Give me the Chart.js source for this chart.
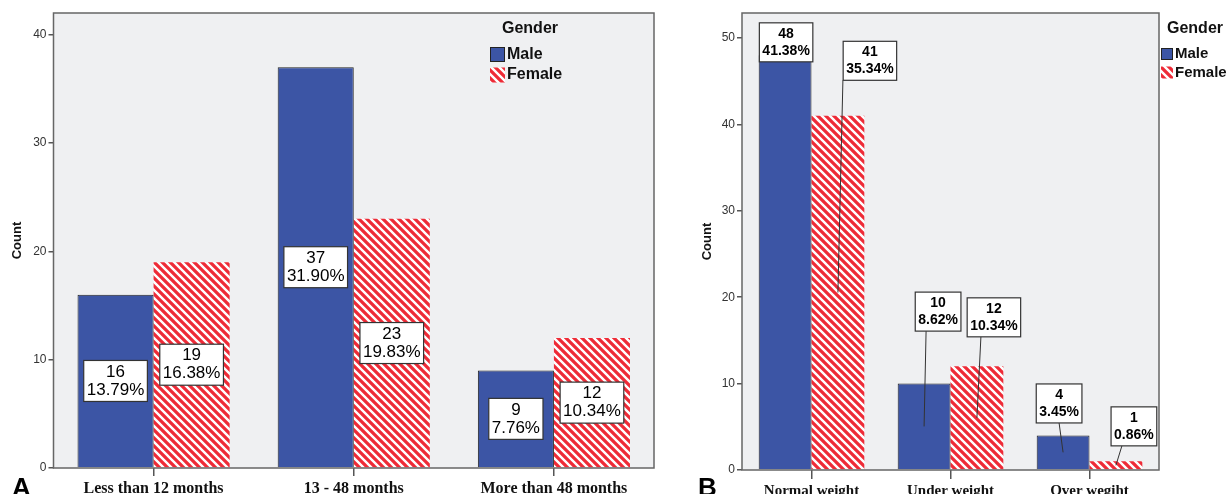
<!DOCTYPE html>
<html>
<head>
<meta charset="utf-8">
<script src="https://cdn.jsdelivr.net/npm/chart.js@4.4.1/dist/chart.umd.min.js"></script>
<style>
  body { margin: 0; background: #fff; width: 1227px; height: 494px; overflow: hidden; position: relative; }
  canvas { position: absolute; top: 0; }
  #age { left: 0; }
  #weight { left: 690px; }
  .tag { position: absolute; font: bold 26px 'Liberation Sans', Arial, sans-serif; line-height: 26px; color: #000; }
</style>
</head>
<body>
<canvas id="age" width="690" height="494"></canvas>
<canvas id="weight" width="537" height="494"></canvas>
<div class="tag" style="left:12px;top:474px">A</div>
<div class="tag" style="left:698px;top:474px">B</div>
<script>
// panel A: age groups
const ageLabels = ['Less than 12 months', '13 - 48 months', 'More than 48 months']
const ageMale = [16, 37, 9]
const ageFemale = [19, 23, 12]
const ageTicks = [0, 10, 20, 30, 40]

// panel B: weight status
const weightLabels = ['Normal weight', 'Under weight', 'Over wegiht']
const weightMale = [48, 10, 4]
const weightFemale = [41, 12, 1]
const weightTicks = [0, 10, 20, 30, 40, 50]

// callout placement for B: [box dx from bar centre, box dy from bar top, leader start dx from box centre, draw leader]
const weightCallouts = [
  [[1, -13, 0, false], [14, -72, -12, true], [-4, -32, 0, true]],
  [[32, -55, -27, true], [17, -49, -13, true], [18, -35, -12, true]]
]

const blue = '#3c55a5'
const red = '#ee2b37'

const stripes = (() => {
  const s = 8
  const c = document.createElement('canvas')
  c.width = s; c.height = s
  const g = c.getContext('2d')
  g.fillStyle = red
  g.fillRect(0, 0, s, s)
  g.strokeStyle = '#fff'
  g.lineWidth = 2.4
  g.beginPath()
  g.moveTo(-1, -1); g.lineTo(s + 1, s + 1)
  g.moveTo(-1, s - 1); g.lineTo(1, s + 1)
  g.moveTo(s - 1, -1); g.lineTo(s + 1, 1)
  g.stroke()
  return g.createPattern(c, 'repeat')
})()

const pct = (v, all) => (v / all * 100).toFixed(2) + '%'

const frame = {
  id: 'frame',
  beforeDatasetsDraw (chart) {
    const { ctx, chartArea: a } = chart
    ctx.save()
    ctx.fillStyle = '#eff0f2'
    ctx.fillRect(a.left, a.top, a.right - a.left, a.bottom - a.top)
    ctx.restore()
  },
  afterDatasetsDraw (chart) {
    const { ctx, chartArea: a } = chart
    ctx.save()
    ctx.strokeStyle = '#666'
    ctx.lineWidth = 1.5
    ctx.strokeRect(a.left, a.top, a.right - a.left, a.bottom - a.top)
    ctx.restore()
  }
}

const genderKey = {
  id: 'genderKey',
  afterDraw (chart, args, o) {
    const { ctx } = chart
    ctx.save()
    ctx.fillStyle = '#111'
    ctx.textBaseline = 'middle'
    ctx.textAlign = 'center'
    ctx.font = 'bold 16px "Liberation Sans", Arial, sans-serif'
    ctx.fillText('Gender', o.titleX, o.titleY)
    ctx.textAlign = 'left'
    ctx.font = `bold ${o.size}px "Liberation Sans", Arial, sans-serif`
    chart.data.datasets.forEach((ds, i) => {
      const y = o.rowY[i]
      ctx.fillStyle = ds.backgroundColor
      ctx.fillRect(o.x, y - o.box / 2, o.box, o.box)
      if (ds.borderWidth) {
        ctx.strokeStyle = '#222'
        ctx.lineWidth = 1
        ctx.strokeRect(o.x + 0.5, y - o.box / 2 + 0.5, o.box - 1, o.box - 1)
      }
      ctx.fillStyle = '#111'
      ctx.fillText(ds.label, o.x + o.box + 2, y)
    })
    ctx.restore()
  }
}

const callouts = {
  id: 'callouts',
  afterDatasetsDraw (chart, args, o) {
    const { ctx } = chart
    const all = chart.data.datasets.reduce((t, ds) => t + ds.data.reduce((a, b) => a + b, 0), 0)
    ctx.save()
    ctx.font = o.font
    ctx.textAlign = 'center'
    ctx.textBaseline = 'middle'
    chart.data.datasets.forEach((ds, i) => {
      chart.getDatasetMeta(i).data.forEach((bar, j) => {
        const v = ds.data[j]
        const lines = [String(v), pct(v, all)]
        const w = Math.max(...lines.map(t => ctx.measureText(t).width)) + 6
        const h = o.lineH * 2 + 5
        const mid = (bar.y + bar.base) / 2
        let cx = bar.x
        let cy = mid
        const place = o.layout && o.layout[i][j]
        if (place) {
          cx = bar.x + place[0]
          cy = bar.y + place[1]
          if (place[3]) {
            ctx.strokeStyle = '#333'
            ctx.lineWidth = 1
            ctx.beginPath()
            ctx.moveTo(cx + place[2], cy + h / 2)
            ctx.lineTo(bar.x, mid)
            ctx.stroke()
          }
        }
        ctx.fillStyle = '#fff'
        ctx.fillRect(cx - w / 2, cy - h / 2, w, h)
        ctx.strokeStyle = '#333'
        ctx.lineWidth = 1.2
        ctx.strokeRect(cx - w / 2, cy - h / 2, w, h)
        ctx.fillStyle = '#000'
        ctx.fillText(lines[0], cx, cy - o.lineH / 2)
        ctx.fillText(lines[1], cx, cy + o.lineH / 2)
      })
    })
    ctx.restore()
  }
}

const makeChart = (id, cfg) => new Chart(document.getElementById(id), {
  type: 'bar',
  data: {
    labels: cfg.labels,
    datasets: [
      { label: 'Male', data: cfg.male, backgroundColor: blue, borderColor: '#222', borderWidth: 1 },
      { label: 'Female', data: cfg.female, backgroundColor: stripes, borderWidth: 0 }
    ]
  },
  options: {
    responsive: false,
    animation: false,
    layout: { padding: { left: 0, top: 13, right: cfg.padRight, bottom: 0 } },
    datasets: { bar: { categoryPercentage: 0.76, barPercentage: 1 } },
    scales: {
      x: {
        offset: true,
        grid: { offset: false, drawOnChartArea: false, tickLength: cfg.xTick, color: '#555', lineWidth: 1.5 },
        border: { display: false },
        ticks: {
          color: '#111', padding: 3, maxRotation: 0, autoSkip: false,
          font: { family: '"Liberation Serif", "Times New Roman", serif', size: cfg.xFont, weight: 'bold' }
        },
        afterFit: s => { s.height = cfg.xHeight }
      },
      y: {
        min: 0,
        max: cfg.max,
        afterBuildTicks: s => { s.ticks = cfg.ticks.map(v => ({ value: v })) },
        afterFit: s => { s.width = cfg.yWidth },
        grid: { drawOnChartArea: false, tickLength: 5, color: '#555', lineWidth: 1.5 },
        border: { display: false },
        ticks: { color: '#333', padding: 2, font: { family: '"Liberation Sans", Arial, sans-serif', size: 12 } },
        title: {
          display: true, text: 'Count', color: '#111', padding: { top: 10, bottom: 0 },
          font: { family: '"Liberation Sans", Arial, sans-serif', size: 13, weight: 'bold' }
        }
      }
    },
    plugins: {
      legend: { display: false },
      tooltip: { enabled: false },
      genderKey: cfg.key,
      callouts: cfg.callouts
    }
  },
  plugins: [frame, callouts, genderKey]
})

makeChart('age', {
  labels: ageLabels, male: ageMale, female: ageFemale, ticks: ageTicks,
  max: 42, padRight: 36, yWidth: 53.5, xHeight: 26, xTick: 8, xFont: 16,
  key: { titleX: 530, titleY: 29, x: 490, box: 15, size: 16, rowY: [54.5, 75] },
  callouts: { font: '17px "Liberation Sans", Arial, sans-serif', lineH: 18 }
})

makeChart('weight', {
  labels: weightLabels, male: weightMale, female: weightFemale, ticks: weightTicks,
  max: 52.9, padRight: 68, yWidth: 52, xHeight: 24, xTick: 9, xFont: 15,
  key: { titleX: 505, titleY: 29, x: 471, box: 12, size: 15, rowY: [54, 72.5] },
  callouts: { font: 'bold 14px "Liberation Sans", Arial, sans-serif', lineH: 17, layout: weightCallouts }
})
</script>
</body>
</html>
